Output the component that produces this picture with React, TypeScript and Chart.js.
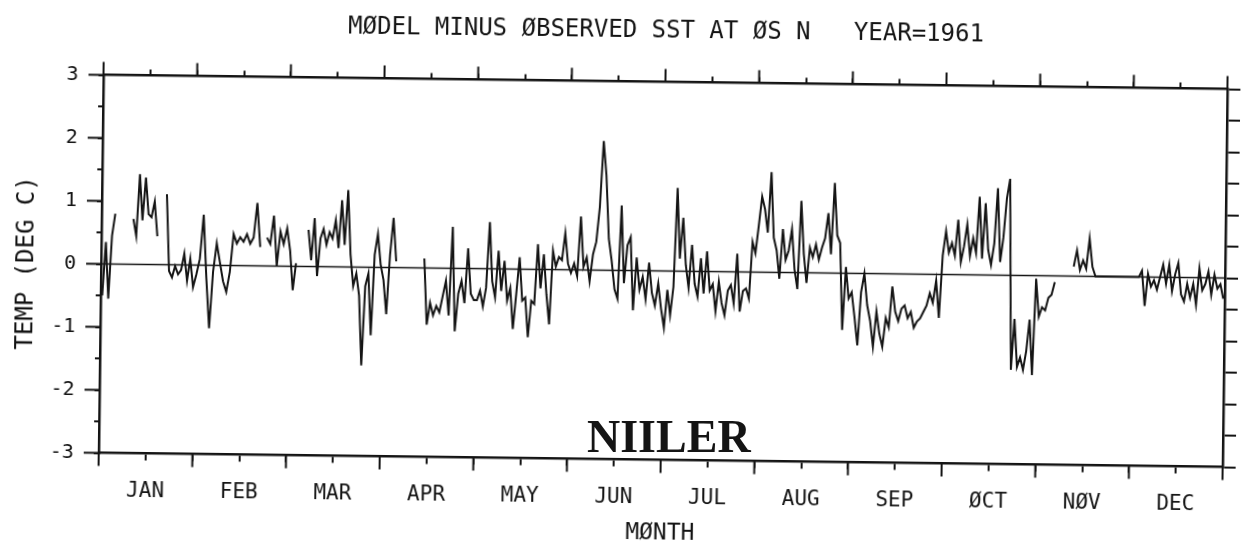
import React, { useEffect, useRef } from "react";
import { Chart, registerables } from "chart.js";

Chart.register(...registerables);

// ---------- data (daily values, deg C; null = no data) ----------
const MONTH_LABELS = ["JAN", "FEB", "MAR", "APR", "MAY", "JUN", "JUL", "AUG", "SEP", "ØCT", "NØV", "DEC"];

const JAN = [-0.5, 0.35, -0.55, 0.45, 0.8, null, null, null, null, null, 0.72, 0.45, 1.43, 0.7, 1.38, 0.8, 0.75, 1.0, 0.45, null, null, 1.12, -0.1, -0.2, -0.02, -0.15, -0.08, 0.18, -0.25, 0.1, -0.35];
const FEB = [-0.15, 0.1, 0.8, -0.2, -1.0, -0.1, 0.35, 0.05, -0.25, -0.42, -0.1, 0.5, 0.35, 0.45, 0.38, 0.5, 0.35, 0.45, 1.0, 0.3, null, 0.45, 0.35, 0.8, 0.0, 0.55, 0.35, 0.6];
const MAR = [0.25, -0.38, 0.05, null, null, null, 0.58, 0.1, 0.77, -0.15, 0.45, 0.6, 0.35, 0.55, 0.45, 0.74, 0.3, 1.06, 0.35, 1.22, 0.2, -0.3, -0.1, -0.45, -1.56, -0.3, -0.1, -1.08, 0.2, 0.53, 0.05];
const APR = [-0.2, -0.74, 0.2, 0.79, 0.1, null, null, null, null, null, null, null, null, 0.15, -0.9, -0.55, -0.75, -0.6, -0.7, -0.45, -0.2, -0.75, 0.66, -1.0, -0.4, -0.2, -0.55, 0.32, -0.4, -0.5];
const MAY = [-0.5, -0.35, -0.6, -0.3, 0.74, -0.2, -0.45, 0.29, -0.35, 0.13, -0.5, -0.3, -0.95, -0.4, 0.19, -0.5, -0.45, -1.08, -0.5, -0.55, 0.4, -0.3, 0.24, -0.4, -0.87, 0.3, 0.05, 0.2, 0.15, 0.58, 0.1];
const JUN = [-0.05, 0.1, -0.1, 0.85, 0.05, 0.2, -0.18, 0.25, 0.45, 1.0, 2.05, 1.5, 0.5, 0.15, -0.3, -0.45, 1.03, -0.2, 0.4, 0.53, -0.63, 0.21, -0.3, -0.1, -0.45, 0.13, -0.35, -0.55, -0.2, -0.6];
const JUL = [-0.9, -0.3, -0.7, -0.25, 1.32, 0.2, 0.85, 0.1, -0.26, 0.42, -0.2, -0.4, 0.21, -0.35, 0.32, -0.3, -0.2, -0.63, -0.16, -0.5, -0.69, -0.3, -0.21, -0.5, 0.29, -0.63, -0.3, -0.26, -0.42, 0.48, 0.3];
const AUG = [0.74, 1.2, 1.0, 0.63, 1.59, 0.55, 0.35, -0.1, 0.69, 0.2, 0.35, 0.69, 0.05, -0.26, 1.14, 0.3, -0.16, 0.4, 0.25, 0.45, 0.21, 0.4, 0.55, 0.95, 0.3, 1.43, 0.6, 0.48, -0.9, 0.1, -0.4];
const SEP = [-0.3, -0.7, -1.14, -0.3, 0.0, -0.5, -0.75, -1.16, -0.6, -0.95, -1.16, -0.7, -0.85, -0.2, -0.6, -0.75, -0.55, -0.5, -0.7, -0.6, -0.85, -0.75, -0.7, -0.6, -0.5, -0.3, -0.45, -0.1, -0.69, 0.3];
const OCT = [0.69, 0.35, 0.5, 0.3, 0.87, 0.2, 0.45, 0.8, 0.3, 0.58, 0.35, 1.24, 0.26, 1.14, 0.4, 0.16, 0.5, 1.38, 0.21, 0.6, 1.22, 1.53, -1.5, -0.69, -1.45, -1.3, -1.5, -1.2, -0.7, -1.58, -0.05];
const NOV = [-0.65, -0.5, -0.55, -0.35, -0.3, -0.1, null, null, null, null, null, 0.15, 0.41, 0.1, 0.25, 0.12, 0.6, 0.15, 0, 0, 0, 0, 0, 0, 0, 0, 0, 0, 0, 0];
const DEC = [0, 0, 0, 0.1, -0.46, 0.05, -0.15, -0.05, -0.2, 0.0, 0.2, -0.1, 0.2, -0.22, 0.05, 0.23, -0.27, -0.38, -0.1, -0.32, -0.1, -0.43, 0.15, -0.2, -0.1, 0.1, -0.27, 0.05, -0.17, -0.1, -0.33];

const MONTH_VALUES = [JAN, FEB, MAR, APR, MAY, JUN, JUL, AUG, SEP, OCT, NOV, DEC];

// axis ticks: month boundaries and mid-months (labels at mid-months)
const X_TICKS = [0, 0.5, 1, 1.5, 2, 2.5, 3, 3.5, 4, 4.5, 5, 5.5, 6, 6.5, 7, 7.5, 8, 8.5, 9, 9.5, 10, 10.5, 11, 11.5, 12];
const MONTH_BOUNDS = [0, 1, 2, 3, 4, 5, 6, 7, 8, 9, 10, 11, 12];
const Y_MAJOR = [-3, -2, -1, 0, 1, 2, 3];

const TITLE = "MØDEL MINUS ØBSERVED SST AT ØS N   YEAR=1961";
const X_TITLE = "MØNTH";
const Y_TITLE = "TEMP (DEG C)";
const STAMP = "NIILER";

const INK = "#141414";
const FONT = "'DejaVu Sans Mono', monospace";

const W = 1235;
const H = 537;

const frameTicks = {
  id: "frameTicks",
  afterDraw(chart: any) {
    const { ctx, chartArea: a } = chart;
    const x = chart.scales.x;
    const y = chart.scales.y;
    ctx.save();
    ctx.strokeStyle = INK;
    ctx.lineWidth = 2;
    ctx.beginPath();
    for (const m of MONTH_BOUNDS) {
      const px = x.getPixelForValue(m);
      ctx.moveTo(px, a.bottom);
      ctx.lineTo(px, a.bottom + 13);
      ctx.moveTo(px, a.top);
      ctx.lineTo(px, a.top - 13);
    }
    for (const v of Y_MAJOR) {
      const py = y.getPixelForValue(v);
      ctx.moveTo(a.left, py);
      ctx.lineTo(a.left - 15, py);
    }
    ctx.stroke();
    ctx.restore();
  },
};

export default function App() {
  const ref = useRef<HTMLCanvasElement>(null);

  useEffect(() => {
    document.documentElement.style.overflow = "hidden";
    const series = MONTH_VALUES.flatMap((vals, m) =>
      vals.map((v, i) => ({ x: m + (i + 0.5) / vals.length, y: v }))
    );
    const setXTicks = (s: any) => {
      s.ticks = X_TICKS.map((v) => ({ value: v }));
    };
    const gridBase = {
      drawOnChartArea: false,
      color: INK,
      tickColor: INK,
      tickWidth: 2,
      lineWidth: 2,
    };
    const border = { display: true, color: INK, width: 2.5 };

    const chart = new Chart(ref.current as HTMLCanvasElement, {
      type: "line",
      data: {
        datasets: [
          {
            data: series as any,
            borderColor: INK,
            borderWidth: 2,
            pointRadius: 0,
            tension: 0,
            spanGaps: false,
          },
          {
            data: [
              { x: 0, y: 0 },
              { x: 12, y: 0 },
            ] as any,
            borderColor: INK,
            borderWidth: 1.3,
            pointRadius: 0,
          },
        ],
      },
      options: {
        responsive: false,
        maintainAspectRatio: false,
        animation: false,
        devicePixelRatio: 1,
        layout: { padding: 0 },
        plugins: {
          legend: { display: false },
          tooltip: { enabled: false },
          title: { display: false },
        },
        scales: {
          x: {
            type: "linear",
            position: "bottom",
            min: 0,
            max: 12,
            afterBuildTicks: setXTicks,
            afterFit: (s: any) => {
              s.height = 85.5;
            },
            grid: { ...gridBase, tickLength: 7 },
            border,
            ticks: {
              autoSkip: false,
              maxRotation: 0,
              padding: 18,
              color: INK,
              font: { family: FONT, size: 21 },
              callback: (v: any) =>
                Number.isInteger(v) ? "" : MONTH_LABELS[Math.floor(v)],
            },
            title: {
              display: true,
              text: X_TITLE,
              color: INK,
              font: { family: FONT, size: 23, lineHeight: 1 },
              padding: { top: 0, bottom: 0 },
            },
          },
          x2: {
            type: "linear",
            position: "top",
            min: 0,
            max: 12,
            afterBuildTicks: setXTicks,
            afterFit: (s: any) => {
              s.height = 73.5;
            },
            grid: { ...gridBase, tickLength: 6 },
            border,
            ticks: { display: false },
            title: {
              display: true,
              text: TITLE,
              color: INK,
              font: { family: FONT, size: 24 },
              padding: { top: 8.5, bottom: 0 },
            },
          },
          y: {
            type: "linear",
            position: "left",
            min: -3,
            max: 3,
            afterFit: (s: any) => {
              s.width = 93;
            },
            grid: { ...gridBase, tickLength: 5 },
            border,
            ticks: {
              stepSize: 0.5,
              padding: 20,
              color: INK,
              font: { family: FONT, size: 20 },
              callback: (v: any) => (Number.isInteger(v) ? String(v) : ""),
            },
            title: {
              display: true,
              text: Y_TITLE,
              color: INK,
              font: { family: FONT, size: 24 },
              padding: { top: 4, bottom: 0 },
            },
          },
          y2: {
            type: "linear",
            position: "right",
            min: -3,
            max: 3,
            afterFit: (s: any) => {
              s.width = 11.5;
            },
            grid: { ...gridBase, tickLength: 13 },
            border,
            ticks: { stepSize: 0.5, display: false },
          },
        },
      } as any,
      plugins: [frameTicks],
    });
    return () => chart.destroy();
  }, []);

  return (
    <div style={{ position: "relative", width: W, height: H }}>
      <div
        style={{
          position: "absolute",
          left: 0,
          top: 0,
          width: W,
          height: H,
          transform: "rotate(0.72deg)",
        }}
      >
        <canvas
          ref={ref}
          width={W}
          height={H}
          style={{ display: "block", width: W, height: H }}
        />
      </div>
      <div
        style={{
          position: "absolute",
          left: 579,
          top: 406,
          fontFamily: "'Liberation Serif', serif",
          fontWeight: "bold",
          fontSize: 46,
          lineHeight: 1,
          color: INK,
          whiteSpace: "nowrap",
        }}
      >
        {STAMP}
      </div>
    </div>
  );
}
